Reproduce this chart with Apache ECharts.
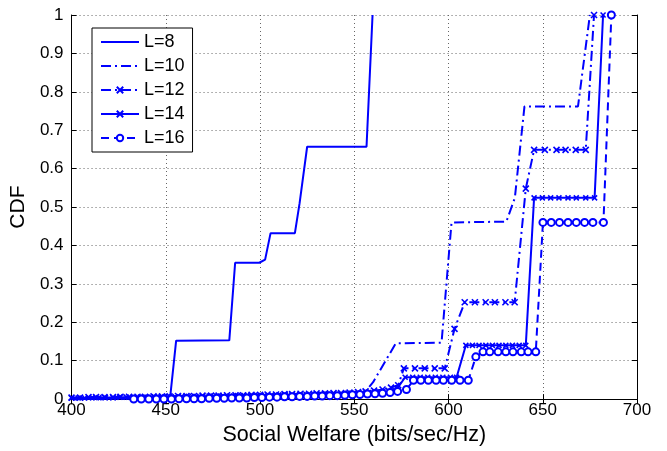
<!DOCTYPE html>
<html>
<head>
<meta charset="utf-8">
<script src="https://cdn.jsdelivr.net/npm/echarts@6/dist/echarts.min.js"></script>
<style>
html,body{margin:0;padding:0;background:#fff;}
#chart{width:667px;height:451px;}
</style>
</head>
<body>
<div id="chart"></div>
<script>
// ---- data ----
var xTicks = [400, 450, 500, 550, 600, 650, 700];
var yTicks = [0, 0.1, 0.2, 0.3, 0.4, 0.5, 0.6, 0.7, 0.8, 0.9, 1];
var seriesNames = ['L=8', 'L=10', 'L=12', 'L=14', 'L=16'];

var l8X = [400, 430, 452.3, 455.5, 483.7, 486.8, 499.6, 502.7, 505.6, 518.5, 521, 525, 556.5, 559.7];
var l8Y = [0, 0.002, 0.004, 0.152, 0.153, 0.355, 0.355, 0.363, 0.432, 0.432, 0.51, 0.657, 0.657, 1];

var l10X = [400, 450, 500, 540, 556, 560, 572, 596.3, 601.6, 630.7, 635.2, 640.3, 668.7, 675];
var l10Y = [0.002, 0.004, 0.008, 0.015, 0.02, 0.044, 0.145, 0.147, 0.46, 0.462, 0.524, 0.762, 0.762, 1];

var l12X = [400, 404.5, 409, 413, 417.5, 422, 426, 430.5, 435, 439, 443.5, 448, 452, 456.5, 461, 465, 469.5, 474, 478, 482.5,
            487, 491, 495.5, 500, 504, 508.5, 513, 517, 521.5, 526, 530, 534.5, 539, 543, 547.5, 552, 556, 560.5, 565, 569.5, 573.3,
            576.3, 582.2, 587.4, 592.7, 598, 603.2, 608.6, 614, 619.7, 624.6, 630.2, 635.1, 641, 645.4, 651.1, 657.3, 662.1, 667.5, 672.8, 677.2];
var l12Y = [0.004, 0.004, 0.005, 0.005, 0.005, 0.005, 0.006, 0.006, 0.006, 0.006, 0.007, 0.007, 0.007, 0.008, 0.008, 0.008, 0.009, 0.009, 0.009, 0.01,
            0.01, 0.01, 0.011, 0.011, 0.012, 0.012, 0.013, 0.013, 0.014, 0.014, 0.015, 0.015, 0.016, 0.016, 0.017, 0.018, 0.02, 0.022, 0.025, 0.03, 0.036,
            0.08, 0.08, 0.08, 0.08, 0.08, 0.183, 0.252, 0.252, 0.252, 0.252, 0.252, 0.252, 0.548, 0.649, 0.649, 0.649, 0.649, 0.649, 0.649, 1];

var l14X = [400, 403.5, 407, 411, 414.5, 418, 422, 425.5, 429, 433, 436.5, 440, 444, 447.5, 451, 455, 458.5, 462, 466, 469.5,
            473, 477, 480.5, 484, 488, 491.5, 495, 499, 502.5, 506, 510, 513.5, 517, 521, 524.5, 528, 532, 535.5, 539, 543,
            546.5, 550, 554, 557.5, 561, 565, 568.5, 572, 577, 581, 585, 589, 593, 597, 601, 604.3,
            609.2, 612.7, 616.2, 619.8, 623.3, 626.8, 630.4, 633.9, 637.5, 641,
            645.4, 649.8, 654.2, 658.6, 663.4, 667.8, 672.8, 677.5, 682];
var l14Y = [0.003, 0.003, 0.003, 0.004, 0.004, 0.004, 0.004, 0.005, 0.005, 0.005, 0.005, 0.005, 0.006, 0.006, 0.006, 0.006, 0.007, 0.007, 0.007, 0.007,
            0.008, 0.008, 0.008, 0.008, 0.009, 0.009, 0.009, 0.01, 0.01, 0.01, 0.011, 0.011, 0.011, 0.012, 0.012, 0.012, 0.013, 0.013, 0.014, 0.014,
            0.015, 0.015, 0.016, 0.017, 0.018, 0.019, 0.02, 0.022, 0.057, 0.057, 0.057, 0.057, 0.057, 0.057, 0.057, 0.057,
            0.14, 0.14, 0.14, 0.14, 0.14, 0.14, 0.14, 0.14, 0.14, 0.14,
            0.524, 0.524, 0.524, 0.524, 0.524, 0.524, 0.524, 0.524, 1];

var l16X = [433, 437, 441, 445, 449, 453, 457, 461, 465, 469, 473, 477, 481, 485, 489, 493, 497, 501, 505, 509,
            513, 517, 521, 525, 529, 533, 537, 541, 545, 549, 553, 557, 561, 565, 569, 573, 577.7,
            581.4, 585.3, 589.3, 593.4, 597.3, 601.7, 606.1, 610.5, 614.5,
            618.3, 621.9, 626.3, 630.4, 634.2, 638.6, 642.2, 646.3,
            650.1, 654.5, 658.9, 663.4, 667.8, 672.2, 676.6, 682.2, 686.4];
var l16Y = [0, 0, 0, 0, 0, 0, 0.001, 0.001, 0.001, 0.001, 0.002, 0.002, 0.002, 0.003, 0.003, 0.003, 0.004, 0.004, 0.005, 0.005,
            0.006, 0.006, 0.007, 0.007, 0.008, 0.008, 0.009, 0.009, 0.01, 0.011, 0.012, 0.013, 0.014, 0.015, 0.017, 0.02, 0.025,
            0.049, 0.049, 0.049, 0.049, 0.049, 0.049, 0.049, 0.049, 0.11,
            0.123, 0.123, 0.123, 0.123, 0.123, 0.123, 0.123, 0.123,
            0.46, 0.46, 0.46, 0.46, 0.46, 0.46, 0.46, 0.46, 1];

function zip(xs, ys) { return xs.map(function (x, i) { return [x, ys[i]]; }); }

var BLUE = '#0000ff';
var FONT = 'Liberation Sans, Arial, Helvetica, sans-serif';
var xMark = 'path://M0,0L10,10M10,0L0,10';

function mkSeries(name, xs, ys, lineType, symbol, symSize) {
  var plain = symbol === 'none';
  return {
    name: name,
    type: 'line',
    data: zip(xs, ys),
    showSymbol: !plain,
    showAllSymbol: true,
    symbol: plain ? 'circle' : symbol,
    symbolSize: plain ? 0 : symSize,
    animation: false,
    lineStyle: { color: BLUE, width: 2, type: lineType },
    itemStyle: plain ? { color: 'rgba(0,0,0,0)', borderWidth: 0 }
                     : { color: BLUE, borderColor: BLUE, borderWidth: 1.6 },
    emphasis: { disabled: true }
  };
}

var chart = echarts.init(document.getElementById('chart'), null, { renderer: 'canvas' });

var gridLine = { show: true, lineStyle: { color: '#666', type: [1, 3], width: 1 } };

chart.setOption({
  backgroundColor: '#fff',
  animation: false,
  textStyle: { fontFamily: FONT },
  grid: { left: 71, right: 30, top: 15, bottom: 47 },
  legend: {
    orient: 'vertical',
    left: 92, top: 28,
    padding: [5, 8, 5, 8],
    itemWidth: 38, itemHeight: 8, itemGap: 6,
    backgroundColor: '#fff',
    borderColor: '#000', borderWidth: 1,
    textStyle: { fontSize: 18, color: '#000', fontFamily: FONT },
    data: seriesNames
  },
  xAxis: [{
    type: 'value', min: xTicks[0], max: xTicks[xTicks.length - 1], interval: 50,
    name: 'Social Welfare (bits/sec/Hz)', nameLocation: 'middle', nameGap: 22,
    nameTextStyle: { fontSize: 21.5, color: '#000', fontFamily: FONT },
    axisLine: { show: true, lineStyle: { color: '#000', width: 1 } },
    axisTick: { show: true, inside: true, length: 5, lineStyle: { color: '#000' } },
    axisLabel: { fontSize: 17, color: '#000', margin: 3, fontFamily: FONT },
    splitLine: gridLine
  }, {
    type: 'value', min: xTicks[0], max: xTicks[xTicks.length - 1], interval: 50, position: 'top',
    axisLine: { show: true, lineStyle: { color: '#000', width: 1 } },
    axisTick: { show: true, inside: true, length: 5, lineStyle: { color: '#000' } },
    axisLabel: { show: false }, splitLine: { show: false }
  }],
  yAxis: [{
    type: 'value', min: yTicks[0], max: yTicks[yTicks.length - 1], interval: 0.1,
    name: 'CDF', nameLocation: 'middle', nameGap: 41,
    nameTextStyle: { fontSize: 21, color: '#000', fontFamily: FONT },
    axisLine: { show: true, lineStyle: { color: '#000', width: 1 } },
    axisTick: { show: true, inside: true, length: 5, lineStyle: { color: '#000' } },
    axisLabel: { fontSize: 17, color: '#000', margin: 8, fontFamily: FONT },
    splitLine: gridLine
  }, {
    type: 'value', min: yTicks[0], max: yTicks[yTicks.length - 1], interval: 0.1, position: 'right',
    axisLine: { show: true, lineStyle: { color: '#000', width: 1 } },
    axisTick: { show: true, inside: true, length: 5, lineStyle: { color: '#000' } },
    axisLabel: { show: false }, splitLine: { show: false }
  }],
  series: [
    mkSeries(seriesNames[0], l8X, l8Y, 'solid', 'none', 0),
    mkSeries(seriesNames[1], l10X, l10Y, [10, 4, 2, 4], 'none', 0),
    mkSeries(seriesNames[2], l12X, l12Y, [10, 4, 2, 4], xMark, 6),
    mkSeries(seriesNames[3], l14X, l14Y, 'solid', xMark, 5),
    mkSeries(seriesNames[4], l16X, l16Y, [8, 5], 'emptyCircle', 7)
  ]
});
</script>
</body>
</html>
